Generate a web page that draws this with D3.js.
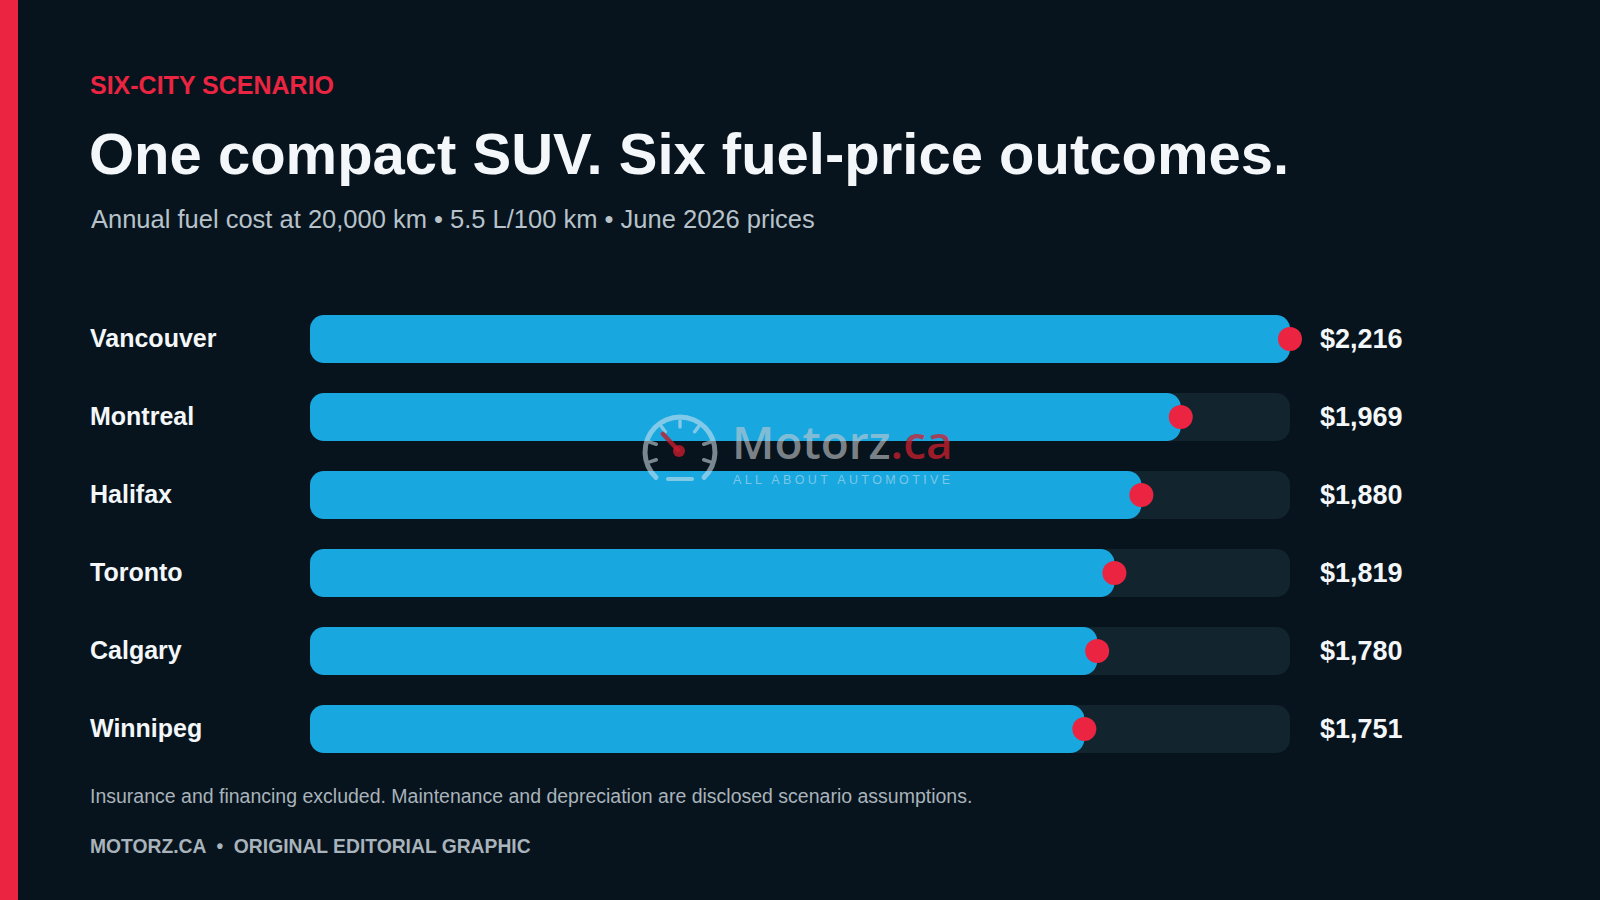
<!DOCTYPE html>
<html>
<head>
<meta charset="utf-8">
<script src="https://cdn.jsdelivr.net/npm/d3@7"></script>
<style>
  html, body { margin: 0; padding: 0; background: #07141d; }
  svg { display: block; }
</style>
</head>
<body>
<svg id="chart"></svg>
<script>
// data
const cities = ['Vancouver', 'Montreal', 'Halifax', 'Toronto', 'Calgary', 'Winnipeg'];
const annualCost = [2216, 1969, 1880, 1819, 1780, 1751];
const costLabels = ['$2,216', '$1,969', '$1,880', '$1,819', '$1,780', '$1,751'];

(function() {
  const svgDim = { w: 1600, h: 900 },
    font = '"Liberation Sans", Arial, Helvetica, sans-serif',
    colors = {
      bg: '#07141d',
      accent: '#ea2441',
      bar: '#19a7df',
      track: '#12242e',
      text: '#f4f7f9',
      sub: '#b7c2ca',
      note: '#a9b3bb'
    },
    $svg = d3.select('#chart')
      .attr('width', svgDim.w)
      .attr('height', svgDim.h);

  const rows = cities.map((c, i) => ({ city: c, value: annualCost[i], label: costLabels[i] }));

  $svg.append('rect')
    .attr('width', svgDim.w)
    .attr('height', svgDim.h)
    .attr('fill', colors.bg);
  $svg.append('rect')
    .attr('width', 18)
    .attr('height', svgDim.h)
    .attr('fill', colors.accent);

  // header
  $svg.append('text')
    .text('SIX-CITY SCENARIO')
    .attr('x', 90).attr('y', 94)
    .attr('font-family', font).attr('font-weight', 700).attr('font-size', 25)
    .attr('fill', colors.accent);
  $svg.append('text')
    .text('One compact SUV. Six fuel-price outcomes.')
    .attr('x', 89).attr('y', 174)
    .attr('font-family', font).attr('font-weight', 700).attr('font-size', 58)
    .attr('fill', colors.text);
  $svg.append('text')
    .text('Annual fuel cost at 20,000 km \u2022 5.5 L/100 km \u2022 June 2026 prices')
    .attr('x', 91).attr('y', 228)
    .attr('font-family', font).attr('font-size', 25.5)
    .attr('fill', colors.sub);

  const xScale = d3.scaleLinear()
      .domain([0, d3.max(annualCost)])
      .range([310, 1290]),
    yScale = d3.scalePoint()
      .domain(cities)
      .range([339, 729]),
    barH = 48;

  const $rows = $svg.append('g').attr('id', 'rows')
    .selectAll('.row')
    .data(rows)
    .enter()
    .append('g')
    .attr('class', 'row');

  $rows.append('rect')
    .attr('x', xScale(0))
    .attr('y', (d) => yScale(d.city) - barH / 2)
    .attr('width', xScale.range()[1] - xScale(0))
    .attr('height', barH)
    .attr('rx', 14)
    .attr('fill', colors.track);
  $rows.append('rect')
    .attr('x', xScale(0))
    .attr('y', (d) => yScale(d.city) - barH / 2)
    .attr('width', (d) => xScale(d.value) - xScale(0))
    .attr('height', barH)
    .attr('rx', 14)
    .attr('fill', colors.bar);

  $rows.append('text')
    .text((d) => d.city)
    .attr('x', 90)
    .attr('y', (d) => yScale(d.city) + 8)
    .attr('font-family', font).attr('font-weight', 700).attr('font-size', 25)
    .attr('fill', colors.text);
  $rows.append('text')
    .text((d) => d.label)
    .attr('x', 1320)
    .attr('y', (d) => yScale(d.city) + 9)
    .attr('font-family', font).attr('font-weight', 700).attr('font-size', 27)
    .attr('fill', colors.text);

  // watermark, over the bars
  const $wm = $svg.append('g').attr('id', 'watermark'),
    wmLight = '#d6e6ee';
  const cx = 680, cy = 452, r = 35;
  const arc = d3.arc()
    .innerRadius(r - 2.5).outerRadius(r + 2.5)
    .startAngle(-Math.PI * 0.78).endAngle(Math.PI * 0.78)
    .cornerRadius(2);
  $wm.append('path')
    .attr('d', arc())
    .attr('transform', 'translate(' + cx + ',' + cy + ')')
    .attr('fill', wmLight).attr('opacity', 0.55);
  d3.range(-0.6, 0.61, 0.2).forEach((t) => {
    const a = t * Math.PI;
    $wm.append('line')
      .attr('x1', cx + Math.sin(a) * (r - 10)).attr('y1', cy - Math.cos(a) * (r - 10))
      .attr('x2', cx + Math.sin(a) * (r - 4)).attr('y2', cy - Math.cos(a) * (r - 4))
      .attr('stroke', wmLight).attr('stroke-width', 3.5).attr('stroke-linecap', 'round')
      .attr('opacity', 0.55);
  });
  $wm.append('line')
    .attr('x1', cx - 12).attr('x2', cx + 12)
    .attr('y1', cy + 27).attr('y2', cy + 27)
    .attr('stroke', wmLight).attr('stroke-width', 4).attr('stroke-linecap', 'round')
    .attr('opacity', 0.55);
  $wm.append('line')
    .attr('x1', cx - 17).attr('y1', cy - 18)
    .attr('x2', cx - 2).attr('y2', cy - 2)
    .attr('stroke', '#c41c2c').attr('stroke-width', 4.5).attr('stroke-linecap', 'round')
    .attr('opacity', 0.8);
  $wm.append('circle')
    .attr('cx', cx - 1).attr('cy', cy - 1).attr('r', 6)
    .attr('fill', '#c41c2c').attr('opacity', 0.8);
  const $brand = $wm.append('text')
    .attr('x', 732).attr('y', 459)
    .attr('font-family', '"Open Sans", sans-serif').attr('font-weight', 600).attr('font-size', 46);
  $brand.append('tspan').text('Motorz').attr('fill', '#c8ccd0').attr('fill-opacity', 0.62);
  $brand.append('tspan').text('.ca').attr('fill', '#cf1f2f').attr('fill-opacity', 0.75);
  $wm.append('text')
    .text('ALL ABOUT AUTOMOTIVE')
    .attr('x', 733).attr('y', 484)
    .attr('font-family', font).attr('font-size', 12.5)
    .attr('letter-spacing', 3.4)
    .attr('fill', '#cfe3ee').attr('fill-opacity', 0.55);

  // end dots on top
  $svg.append('g').attr('id', 'dots')
    .selectAll('circle')
    .data(rows)
    .enter()
    .append('circle')
    .attr('cx', (d) => xScale(d.value))
    .attr('cy', (d) => yScale(d.city))
    .attr('r', 12)
    .attr('fill', colors.accent);

  // footer
  $svg.append('text')
    .text('Insurance and financing excluded. Maintenance and depreciation are disclosed scenario assumptions.')
    .attr('x', 90).attr('y', 803)
    .attr('font-family', font).attr('font-size', 19.5)
    .attr('fill', colors.note);
  $svg.append('text')
    .text('MOTORZ.CA  \u2022  ORIGINAL EDITORIAL GRAPHIC')
    .attr('x', 90).attr('y', 853)
    .attr('xml:space', 'preserve')
    .style('white-space', 'pre')
    .attr('font-family', font).attr('font-weight', 700).attr('font-size', 19.3)
    .attr('fill', colors.note);
})();
</script>
</body>
</html>
